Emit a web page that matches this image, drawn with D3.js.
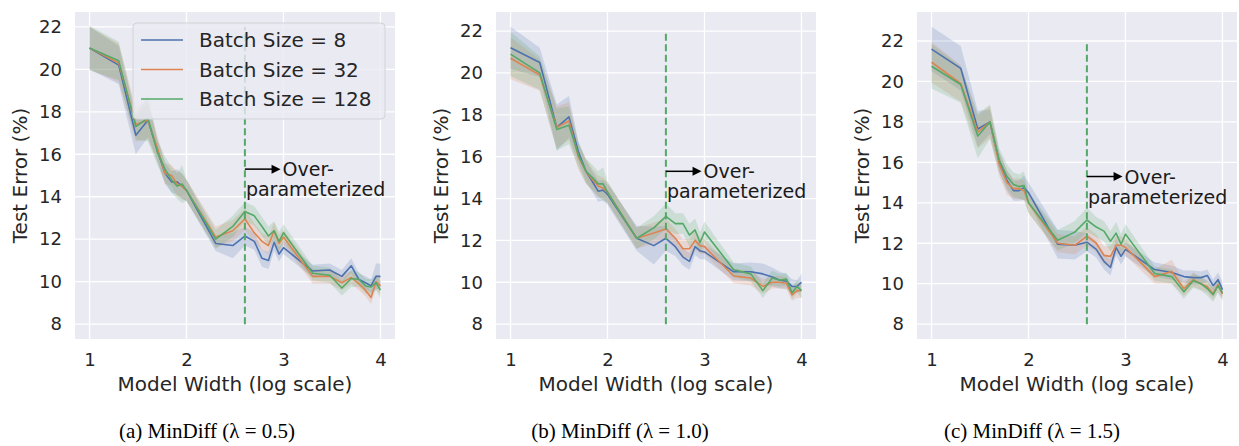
<!DOCTYPE html>
<html><head><meta charset="utf-8">
<script src="https://cdn.jsdelivr.net/npm/d3@7"></script>
<style>body{margin:0;background:#fff} svg{display:block}</style>
</head><body>
<svg id="chart" width="1239" height="446"></svg>
<script>
// ---------------- data ----------------
const widths = [10,20,30,40,50,60,70,80,90,100,200,300,400,500,600,700,800,900,1000,2000,3000,4000,5000,6000,7000,8000,9000,10000];
const seriesNames = ["Batch Size = 8", "Batch Size = 32", "Batch Size = 128"];
const seriesColors = ["#4C72B0", "#DD8452", "#55A868"];
const captions = ["(a)  MinDiff (\u03BB = 0.5)", "(b)  MinDiff (\u03BB = 1.0)", "(c)  MinDiff (\u03BB = 1.5)"];
const xTicks = [1, 2, 3, 4];
const yTicks = [8, 10, 12, 14, 16, 18, 20, 22];
const xDomain = [0.85, 4.15];
const yDomains = [[7.3, 22.7], [7.29, 22.91], [7.265, 23.435]];
const overParamWidth = 400;
const vlineRange = [8, 22];
const arrowY = 15.3;
const arrowEndLog = 2.97;

// panel (a) lambda = 0.5
const a_bs8   = [21.0,20.2,16.9,17.6,16.2,15.1,14.7,14.7,14.5,14.3,11.8,11.7,12.15,11.9,11.1,11.0,11.85,11.3,11.6,10.5,10.55,10.25,10.75,10.1,9.95,9.8,10.25,10.25];
const a_bs32  = [21.0,20.3,17.4,17.6,16.3,15.1,15.0,14.6,14.5,14.3,12.1,12.4,12.95,12.3,11.9,11.7,12.4,11.8,12.1,10.25,10.25,9.95,10.2,9.9,9.6,9.25,10.0,9.8];
const a_bs128 = [21.0,20.4,17.3,17.7,16.1,15.3,14.8,14.5,14.6,14.3,12.0,12.6,13.3,13.1,12.6,12.15,12.4,11.9,12.3,10.4,10.3,9.7,10.15,10.1,9.8,9.75,9.95,9.6];
const a_ci8   = [1.0,0.9,0.9,0.8,0.5,0.5,0.5,0.6,0.6,0.5,0.35,0.6,0.45,0.4,0.4,0.4,0.4,0.35,0.3,0.3,0.3,0.3,0.35,0.3,0.3,0.3,0.6,0.6];
const a_ci32  = [1.0,0.9,0.8,0.9,0.6,0.5,0.5,0.6,0.6,0.5,0.5,0.5,0.5,0.45,0.4,0.4,0.4,0.4,0.35,0.35,0.35,0.35,0.3,0.3,0.3,0.3,0.35,0.4];
const a_ci128 = [1.05,0.9,0.6,1.1,0.6,0.6,0.6,0.6,0.9,0.5,0.45,0.5,0.45,0.45,0.45,0.45,0.45,0.45,0.4,0.35,0.35,0.35,0.4,0.35,0.35,0.35,0.35,0.4];

// panel (b) lambda = 1.0
const b_bs8   = [21.2,20.5,17.4,17.9,16.25,15.3,14.8,14.35,14.4,14.2,12.1,11.75,12.1,11.7,11.2,11.0,11.7,11.5,11.45,10.5,10.5,10.4,10.25,10.1,10.05,9.8,9.8,10.0];
const b_bs32  = [20.7,19.9,17.4,17.7,16.0,15.3,14.9,14.6,14.5,14.3,12.1,12.35,12.55,12.1,11.6,11.6,12.0,11.75,11.7,10.3,10.2,9.8,10.0,10.0,9.95,9.4,9.6,9.6];
const b_bs128 = [20.9,20.0,17.3,17.5,16.1,15.3,15.0,14.7,14.7,14.3,12.1,12.6,13.15,12.8,12.8,12.25,12.5,11.9,12.4,10.6,10.4,9.6,10.2,10.1,10.15,9.5,9.8,9.6];
const b_ci8   = [1.0,0.7,1.1,1.0,0.5,0.5,0.5,0.5,0.5,0.5,0.6,0.9,0.6,0.45,0.4,0.4,0.4,0.4,0.35,0.4,0.45,0.5,0.45,0.4,0.35,0.35,0.3,0.4];
const b_ci32  = [1.0,0.75,1.0,0.9,0.6,0.6,0.5,0.5,0.5,0.5,0.5,0.5,0.5,0.45,0.45,0.45,0.45,0.4,0.35,0.35,0.35,0.35,0.3,0.3,0.3,0.3,0.35,0.35];
const b_ci128 = [1.05,0.8,1.0,0.9,0.6,0.6,0.6,0.6,0.8,0.5,0.5,0.55,0.6,0.5,0.5,0.55,0.55,0.5,0.5,0.35,0.35,0.35,0.35,0.3,0.3,0.3,0.3,0.35];

// panel (c) lambda = 1.5
const c_bs8   = [21.6,20.65,17.65,18.0,16.0,15.1,14.6,14.6,14.75,14.5,11.95,11.9,12.05,11.7,11.1,10.8,11.8,11.35,11.7,10.7,10.55,10.35,10.3,10.3,10.4,9.9,10.2,9.7];
const c_bs32  = [20.95,19.9,17.5,18.0,15.9,15.0,14.7,14.7,14.6,14.0,12.0,11.9,12.35,12.0,11.4,11.35,11.9,11.9,11.8,10.35,10.6,9.75,10.2,10.0,9.85,9.5,9.95,9.5];
const c_bs128 = [20.75,19.85,17.3,18.0,16.1,15.3,14.9,14.8,14.85,14.0,12.15,12.55,13.15,12.8,12.6,12.1,12.5,11.95,12.45,10.5,10.35,9.6,10.15,10.0,9.75,9.45,9.9,9.55];
const c_ci8   = [1.1,1.1,0.9,0.6,0.5,0.5,0.5,0.5,0.6,0.5,0.7,0.7,0.45,0.4,0.4,0.4,0.4,0.4,0.35,0.35,0.35,0.3,0.35,0.3,0.3,0.3,0.35,0.4];
const c_ci32  = [1.0,0.9,0.8,0.8,0.6,0.6,0.5,0.5,0.5,0.5,0.45,0.45,0.45,0.45,0.45,0.5,0.45,0.45,0.4,0.35,0.6,0.35,0.35,0.3,0.3,0.3,0.35,0.35];
const c_ci128 = [1.1,0.9,1.1,0.85,0.6,0.6,0.6,0.6,0.7,0.5,0.5,0.55,0.6,0.5,0.5,0.5,0.55,0.5,0.5,0.35,0.35,0.35,0.35,0.35,0.35,0.35,0.35,0.35];

const panelSeries = [
  [[a_bs8, a_ci8], [a_bs32, a_ci32], [a_bs128, a_ci128]],
  [[b_bs8, b_ci8], [b_bs32, b_ci32], [b_bs128, b_ci128]],
  [[c_bs8, c_ci8], [c_bs32, c_ci32], [c_bs128, c_ci128]]
];

// ---------------- drawing ----------------
const svg = d3.select("#chart");
const FONT = "DejaVu Sans, sans-serif";
const TXT = "#262626";
const panelLefts = [75, 496, 917];
const plotTop = 12, plotW = 320, plotH = 327;
const captionCenters = [207, 620, 1032];

panelSeries.forEach((series, pi) => {
  const g = svg.append("g").attr("transform", `translate(${panelLefts[pi]},${plotTop})`);
  const x = d3.scaleLinear().domain(xDomain).range([0, plotW]);
  const y = d3.scaleLinear().domain(yDomains[pi]).range([plotH, 0]);

  g.append("rect").attr("width", plotW).attr("height", plotH).attr("fill", "#EAEAF2");

  // grid
  g.append("g").selectAll("line").data(xTicks).join("line")
    .attr("x1", d => x(d)).attr("x2", d => x(d)).attr("y1", 0).attr("y2", plotH)
    .attr("stroke", "#fff").attr("stroke-width", 1.3);
  g.append("g").selectAll("line").data(yTicks).join("line")
    .attr("y1", d => y(d)).attr("y2", d => y(d)).attr("x1", 0).attr("x2", plotW)
    .attr("stroke", "#fff").attr("stroke-width", 1.3);

  // axes
  const xa = g.append("g").attr("transform", `translate(0,${plotH})`)
    .call(d3.axisBottom(x).tickValues(xTicks).tickSize(0).tickPadding(14).tickFormat(d3.format("d")));
  const ya = g.append("g")
    .call(d3.axisLeft(y).tickValues(yTicks).tickSize(0).tickPadding(13).tickFormat(d3.format("d")));
  [xa, ya].forEach(a => {
    a.select(".domain").remove();
    a.selectAll("text").attr("font-family", FONT).attr("font-size", 18).attr("fill", TXT);
  });

  g.append("text").attr("x", plotW / 2).attr("y", plotH + 52).attr("text-anchor", "middle")
    .attr("font-family", FONT).attr("font-size", 20).attr("fill", TXT).text("Model Width (log scale)");
  g.append("text").attr("transform", `translate(-48,${plotH / 2}) rotate(-90)`).attr("text-anchor", "middle")
    .attr("font-family", FONT).attr("font-size", 20).attr("fill", TXT).text("Test Error (%)");

  // bands and lines
  const area = d3.area().x(d => x(Math.log10(d.w))).y0(d => y(d.v - d.c)).y1(d => y(d.v + d.c));
  const line = d3.line().x(d => x(Math.log10(d.w))).y(d => y(d.v));
  const rows = series.map(([vals, ci]) => widths.map((w, i) => ({ w, v: vals[i], c: ci[i] })));
  rows.forEach((r, si) => {
    g.append("path").datum(r).attr("d", area).attr("fill", seriesColors[si]).attr("fill-opacity", 0.2);
  });
  rows.forEach((r, si) => {
    g.append("path").datum(r).attr("d", line).attr("fill", "none")
      .attr("stroke", seriesColors[si]).attr("stroke-width", 1.6).attr("stroke-linejoin", "round");
  });

  // vertical dashed line
  const vx = x(Math.log10(overParamWidth));
  g.append("line").attr("x1", vx).attr("x2", vx).attr("y1", y(vlineRange[0])).attr("y2", y(vlineRange[1]))
    .attr("stroke", "#55A868").attr("stroke-width", 2).attr("stroke-dasharray", "7,3.5");

  // arrow annotation
  const ay = y(arrowY);
  const tipX = x(arrowEndLog);
  g.append("line").attr("x1", vx).attr("x2", tipX - 7).attr("y1", ay).attr("y2", ay)
    .attr("stroke", "#000").attr("stroke-width", 1.5);
  g.append("path").attr("d", `M${tipX},${ay} L${tipX - 9},${ay - 4.5} L${tipX - 9},${ay + 4.5} Z`).attr("fill", "#000");
  g.append("text").attr("x", tipX + 2).attr("y", ay + 7).attr("font-family", FONT).attr("font-size", 19)
    .attr("fill", "#1a1a1a").text("Over-");
  g.append("text").attr("x", vx + 1).attr("y", ay + 27).attr("font-family", FONT).attr("font-size", 19)
    .attr("fill", "#1a1a1a").text("parameterized");

  // legend (panel a only)
  if (pi === 0) {
    const lg = g.append("g").attr("transform", `translate(${133 - panelLefts[0]},${23 - plotTop})`);
    lg.append("rect").attr("width", 252).attr("height", 96).attr("rx", 4)
      .attr("fill", "rgba(234,234,242,0.8)").attr("stroke", "#d2d2d8").attr("stroke-width", 1);
    seriesNames.forEach((n, si) => {
      const yy = 17 + si * 29.5;
      lg.append("line").attr("x1", 8).attr("x2", 50).attr("y1", yy).attr("y2", yy)
        .attr("stroke", seriesColors[si]).attr("stroke-width", 1.6);
      lg.append("text").attr("x", 66).attr("y", yy).attr("dy", "0.36em")
        .attr("font-family", FONT).attr("font-size", 20).attr("fill", TXT).text(n);
    });
  }

  // caption
  svg.append("text").attr("x", captionCenters[pi]).attr("y", 438).attr("text-anchor", "middle")
    .attr("font-family", "Liberation Serif, DejaVu Serif, serif").attr("font-size", 21).attr("fill", "#000")
    .text(captions[pi]);
});
</script>
</body></html>
